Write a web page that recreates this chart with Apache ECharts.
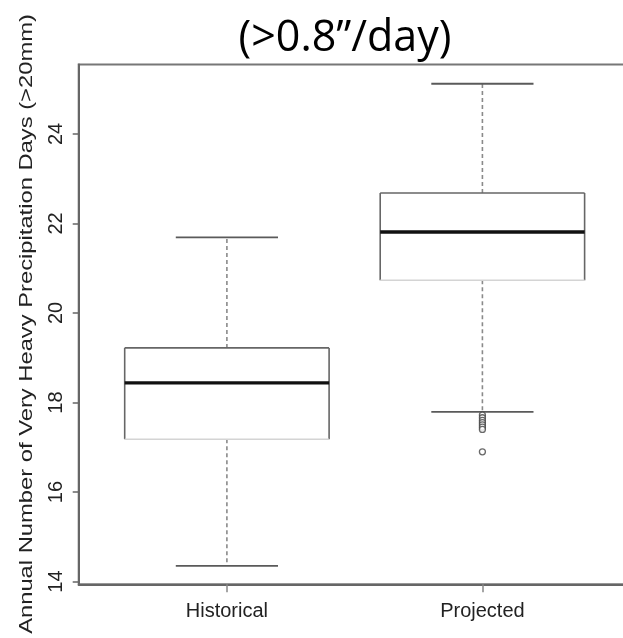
<!DOCTYPE html>
<html>
<head>
<meta charset="utf-8">
<script src="https://cdn.jsdelivr.net/npm/echarts@6/dist/echarts.min.js"></script>
<style>html,body{margin:0;padding:0;background:#fff}#c{width:623px;height:638px}</style>
</head>
<body>
<div id="c"></div>
<script>
// ---- data ----
var categories = ['Historical', 'Projected'];
var whiskerLow = [14.35, 17.79];
var q1 = [17.18, 20.73];
var median = [18.44, 21.81];
var q3 = [19.22, 22.68];
var whiskerHigh = [21.69, 25.12];
var outlierGroup = ['Projected', 'Projected', 'Projected', 'Projected', 'Projected', 'Projected', 'Projected', 'Projected'];
var outlierValues = [17.72, 17.66, 17.60, 17.55, 17.50, 17.45, 17.40, 16.90];
var yTicks = [14, 16, 18, 20, 22, 24];
var titleText = '(>0.8\u201d/day)';
var yName = 'Annual Number of Very Heavy Precipitation Days (>20mm)';

// ---- build series data (x = group position 1, 2, ...) ----
var boxData = categories.map(function (c, i) {
  return [i + 1, whiskerLow[i], q1[i], median[i], q3[i], whiskerHigh[i]];
});
var outlierData = outlierValues.map(function (v, i) {
  return [categories.indexOf(outlierGroup[i]) + 1, v];
});
var xTicks = categories.map(function (c, i) { return i + 1; });

var chart = echarts.init(document.getElementById('c'));

function renderBox(params, api) {
  var x = api.value(0);
  var halfBox = api.size([0.4, 0])[0];
  var halfCap = api.size([0.2, 0])[0];
  var pMin = api.coord([x, api.value(1)]);
  var pQ1 = api.coord([x, api.value(2)]);
  var pMed = api.coord([x, api.value(3)]);
  var pQ3 = api.coord([x, api.value(4)]);
  var pMax = api.coord([x, api.value(5)]);
  var cx = pMed[0];
  var edge = { stroke: '#666', lineWidth: 1.6 };
  var dash = { stroke: '#8a8a8a', lineWidth: 1.6, lineDash: [4, 3] };
  var cap = { stroke: '#5a5a5a', lineWidth: 1.8 };
  return {
    type: 'group',
    children: [
      { type: 'rect', shape: { x: cx - halfBox, y: pQ3[1], width: 2 * halfBox, height: pQ1[1] - pQ3[1] }, style: { fill: '#fff' } },
      { type: 'line', shape: { x1: cx, y1: pQ3[1], x2: cx, y2: pMax[1] }, style: dash },
      { type: 'line', shape: { x1: cx, y1: pQ1[1], x2: cx, y2: pMin[1] }, style: dash },
      { type: 'line', shape: { x1: cx - halfCap, y1: pMax[1], x2: cx + halfCap, y2: pMax[1] }, style: cap },
      { type: 'line', shape: { x1: cx - halfCap, y1: pMin[1], x2: cx + halfCap, y2: pMin[1] }, style: cap },
      { type: 'line', shape: { x1: cx - halfBox, y1: pQ3[1], x2: cx + halfBox, y2: pQ3[1] }, style: edge },
      { type: 'line', shape: { x1: cx - halfBox, y1: pQ3[1], x2: cx - halfBox, y2: pQ1[1] }, style: edge },
      { type: 'line', shape: { x1: cx + halfBox, y1: pQ3[1], x2: cx + halfBox, y2: pQ1[1] }, style: edge },
      { type: 'line', shape: { x1: cx - halfBox, y1: pQ1[1], x2: cx + halfBox, y2: pQ1[1] }, style: { stroke: '#d4d4d4', lineWidth: 1.6 } },
      { type: 'line', shape: { x1: cx - halfBox, y1: pMed[1], x2: cx + halfBox, y2: pMed[1] }, style: { stroke: '#111', lineWidth: 3.4 } }
    ]
  };
}

chart.setOption({
  animation: false,
  backgroundColor: '#fff',
  title: {
    text: titleText,
    left: 340,
    textAlign: 'center',
    top: 12,
    textStyle: { fontFamily: 'Open Sans', fontSize: 43, fontWeight: 'normal', color: '#000' }
  },
  grid: {
    left: 78.7, right: -7.6, top: 64.5, bottom: 53.7,
    outerBoundsMode: 'none',
    containLabel: false,
    show: true, borderColor: '#777', borderWidth: 2, backgroundColor: 'transparent'
  },
  xAxis: {
    type: 'value',
    min: 0.42, max: 2.58,
    splitLine: { show: false },
    axisLine: { show: true, onZero: false, lineStyle: { color: '#666', width: 2 } },
    axisTick: { show: true, customValues: xTicks, length: 8, lineStyle: { color: '#888', width: 1.5 } },
    axisLabel: {
      customValues: xTicks,
      formatter: function (v) { return categories[Math.round(v) - 1] || ''; },
      fontFamily: "'Liberation Sans Narrow', 'Arial Narrow', 'Liberation Sans', sans-serif",
      fontSize: 20, color: '#222', margin: 17
    }
  },
  yAxis: {
    type: 'value',
    min: 13.94, max: 25.55,
    splitLine: { show: false },
    axisLine: { show: true, onZero: false, lineStyle: { color: '#666', width: 2 } },
    axisTick: { show: true, customValues: yTicks, length: 6, lineStyle: { color: '#666', width: 1.5 } },
    axisLabel: {
      customValues: yTicks,
      rotate: 90,
      fontFamily: "'Liberation Sans', Arial, sans-serif",
      fontSize: 20, color: '#222', margin: 12
    }
  },
  graphic: [{
    type: 'text',
    x: 27, y: 324,
    rotation: Math.PI / 2,
    scaleX: 1.25,
    style: {
      text: yName,
      fontFamily: "'Liberation Sans', Arial, sans-serif",
      fontSize: 19,
      fill: '#222',
      align: 'center',
      verticalAlign: 'middle'
    }
  }],
  series: [
    {
      type: 'custom',
      renderItem: renderBox,
      data: boxData,
      encode: { x: 0, y: [1, 2, 3, 4, 5] },
      clip: false
    },
    {
      type: 'scatter',
      data: outlierData,
      symbol: 'circle',
      symbolSize: 6,
      itemStyle: { color: '#fff', borderColor: '#444', borderWidth: 1.3 }
    }
  ]
});
</script>
</body>
</html>
